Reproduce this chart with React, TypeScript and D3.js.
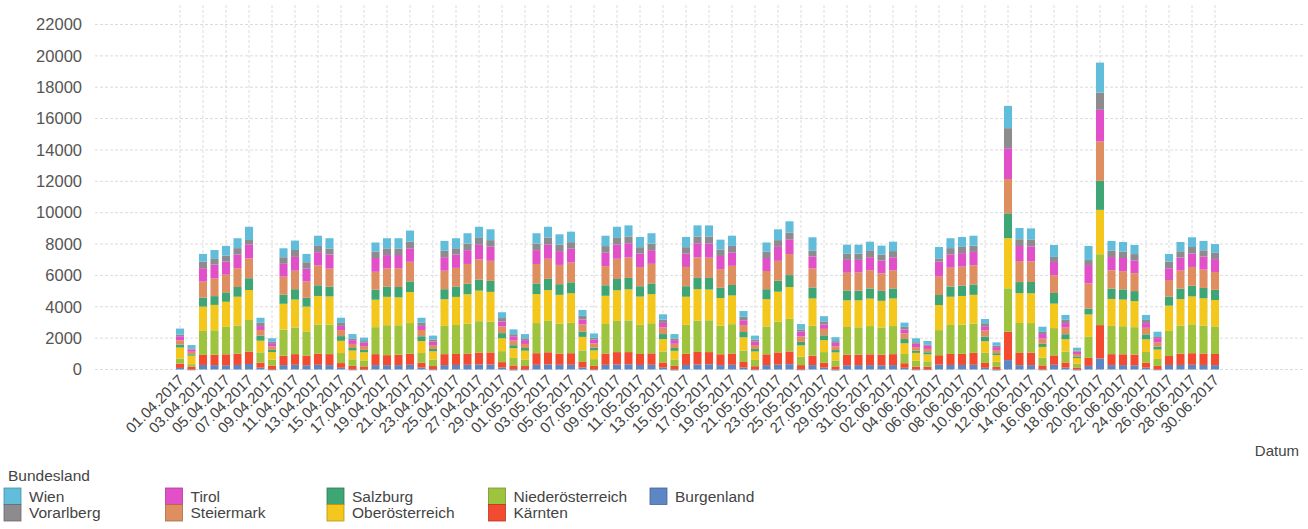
import React from "react";
import * as d3 from "d3";

const dates: string[] = [
  "01.04.2017","02.04.2017","03.04.2017","04.04.2017","05.04.2017","06.04.2017","07.04.2017","08.04.2017","09.04.2017","10.04.2017",
  "11.04.2017","12.04.2017","13.04.2017","14.04.2017","15.04.2017","16.04.2017","17.04.2017","18.04.2017","19.04.2017","20.04.2017",
  "21.04.2017","22.04.2017","23.04.2017","24.04.2017","25.04.2017","26.04.2017","27.04.2017","28.04.2017","29.04.2017","30.04.2017",
  "01.05.2017","02.05.2017","03.05.2017","04.05.2017","05.05.2017","06.05.2017","07.05.2017","08.05.2017","09.05.2017","10.05.2017",
  "11.05.2017","12.05.2017","13.05.2017","14.05.2017","15.05.2017","16.05.2017","17.05.2017","18.05.2017","19.05.2017","20.05.2017",
  "21.05.2017","22.05.2017","23.05.2017","24.05.2017","25.05.2017","26.05.2017","27.05.2017","28.05.2017","29.05.2017","30.05.2017",
  "31.05.2017","01.06.2017","02.06.2017","03.06.2017","04.06.2017","05.06.2017","06.06.2017","07.06.2017","08.06.2017","09.06.2017",
  "10.06.2017","11.06.2017","12.06.2017","13.06.2017","14.06.2017","15.06.2017","16.06.2017","17.06.2017","18.06.2017","19.06.2017",
  "20.06.2017","21.06.2017","22.06.2017","23.06.2017","24.06.2017","25.06.2017","26.06.2017","27.06.2017","28.06.2017","29.06.2017",
  "30.06.2017",
];

const burgenland = [100,-50,290,280,270,290,350,115,-50,280,300,270,300,280,110,-50,-40,280,275,280,300,120,-50,280,290,300,320,310,130,-60,-50,300,320,300,300,130,-50,300,320,330,290,300,120,-60,290,320,330,280,300,130,-50,280,310,340,-50,280,120,-60,270,280,280,270,280,110,-50,-40,310,290,290,300,110,-60,600,275,280,-50,300,120,-60,230,700,280,280,270,120,-50,290,290,300,290,280];
const kaernten = [280,190,640,660,700,720,790,320,250,600,680,620,720,700,300,230,200,700,640,660,700,310,220,700,700,720,760,780,340,260,220,740,780,720,740,350,230,720,790,780,700,730,330,230,710,800,780,690,720,350,210,690,780,810,280,600,320,200,680,670,690,670,700,290,190,180,600,700,710,760,310,170,1810,780,800,260,600,330,130,510,2130,700,690,680,320,230,570,720,740,730,710];
const niederoesterreich = [320,150,1530,1560,1750,1800,2020,660,380,1660,1700,1540,1850,1880,640,420,380,1720,1910,1880,1960,620,400,1800,1850,1900,2000,1960,700,480,420,1920,2000,1900,1940,740,430,1880,1990,2020,1860,1920,690,410,1850,2000,2030,1820,1870,730,400,1780,1960,2080,540,1910,670,380,1760,1740,1800,1740,1790,590,370,340,1600,1850,1860,1860,650,320,2770,1910,1880,500,1740,690,250,1340,4520,1800,1790,1750,680,440,1600,1780,1840,1790,1760];
const oberoesterreich = [700,540,1550,1620,1600,1830,1910,740,480,1650,1780,1580,1820,1800,780,560,520,1750,1810,1780,1980,760,540,1700,1790,1880,1950,1900,820,620,560,1850,1960,1840,1880,860,560,1800,1950,1980,1800,1860,800,550,1790,2000,1960,1770,1830,840,540,1730,1910,2030,720,1740,760,510,1700,1720,1750,1700,1760,680,500,450,1600,1800,1830,1840,730,430,3190,1910,1900,680,1560,790,350,1430,2830,1720,1700,1660,800,600,1610,1700,1780,1730,1680];
const salzburg = [190,90,575,560,600,620,750,320,140,580,660,560,680,620,300,160,150,640,640,660,680,310,150,640,650,680,700,700,330,190,170,680,720,680,700,340,170,670,720,730,660,680,320,180,670,720,740,650,670,340,160,640,700,760,220,700,310,150,630,620,650,630,640,270,140,130,640,650,660,660,300,120,1590,700,720,200,680,320,100,380,1850,660,650,640,320,180,575,660,680,660,650];
const steiermark = [275,160,1020,1140,1120,1200,1270,360,230,1150,1180,1040,1260,1150,380,260,240,1140,1170,1200,1250,400,250,1180,1200,1250,1300,1280,440,300,260,1240,1280,1230,1260,460,270,1220,1290,1300,1220,1250,420,270,1230,1310,1290,1190,1220,450,250,1160,1270,1340,350,1210,410,240,1130,1150,1160,1120,1150,360,230,210,1170,1200,1210,1220,390,200,2190,1340,1320,330,1130,420,160,1600,2510,1170,1160,1140,420,290,1060,1160,1200,1170,1140];
const tirol = [255,150,855,870,840,880,890,255,200,820,880,820,850,900,270,240,220,880,850,840,860,260,230,860,850,880,920,900,300,270,240,880,900,880,880,310,240,860,900,910,860,870,290,230,850,900,910,840,860,300,230,830,890,940,300,770,280,220,820,810,830,810,830,250,210,200,960,850,860,860,270,190,1960,960,950,290,850,290,150,1170,2020,840,840,820,300,260,750,830,860,830,820];
const vorarlberg = [110,70,420,360,380,400,280,210,90,420,440,410,400,380,190,110,100,400,430,420,420,200,110,420,400,420,440,420,220,130,120,420,440,420,420,230,120,420,430,430,410,420,210,110,410,430,440,410,410,220,110,400,430,440,150,360,200,110,390,400,400,390,400,170,100,90,210,400,400,400,190,90,1280,430,420,140,320,210,70,320,1100,420,410,400,200,120,430,400,410,400,400];
const wien = [380,210,490,570,620,630,840,320,220,570,600,530,650,660,330,280,220,590,645,650,710,320,260,620,640,660,710,690,370,310,270,660,700,650,670,380,280,660,710,710,650,660,340,280,650,710,710,630,650,370,260,590,690,710,340,860,330,250,580,570,590,570,600,270,250,220,720,630,630,630,270,210,1420,720,730,330,760,310,180,900,1910,610,610,580,320,290,485,590,620,600,560];

const keys = ["Burgenland","Kärnten","Niederösterreich","Oberösterreich","Salzburg","Steiermark","Tirol","Vorarlberg","Wien"];
const seriesValues: number[][] = [burgenland,kaernten,niederoesterreich,oberoesterreich,salzburg,steiermark,tirol,vorarlberg,wien];
const colors: Record<string,string> = {
  Burgenland: "#5d87c4",
  "Kärnten": "#f24b30",
  "Niederösterreich": "#9dc33f",
  "Oberösterreich": "#f3c71c",
  Salzburg: "#3ea574",
  Steiermark: "#df8e60",
  Tirol: "#e150c8",
  Vorarlberg: "#8e8b8e",
  Wien: "#62bddb",
};
const legendOrder = ["Wien","Vorarlberg","Tirol","Steiermark","Salzburg","Oberösterreich","Niederösterreich","Kärnten","Burgenland"];
const yTicks = [0,2000,4000,6000,8000,10000,12000,14000,16000,18000,20000,22000];

export default function App() {
  const W = 1308, H = 529;
  const plotLeft = 95, plotRight = 1303, plotTop = 5, plotBottom = 369.5;
  const rows = dates.map((d, i) => {
    const r: any = { date: d };
    keys.forEach((k, j) => { r[k] = seriesValues[j][i]; });
    return r;
  });
  const stacked = d3.stack<any>().keys(keys).offset(d3.stackOffsetDiverging)(rows);
  const x = d3.scaleBand<string>().domain(dates).range([174.25, 1220.75]).paddingInner(0.3).paddingOuter(0.15);
  const y = d3.scaleLinear().domain([0, 22000]).range([plotBottom, 24.5]);
  const tickDates = dates.filter((_, i) => i % 2 === 0);
  const font = "'Liberation Sans', Arial, sans-serif";
  const cx = (d: string) => (x(d) as number) + x.bandwidth() / 2;

  return (
    <svg width={W} height={H} style={{ position: "absolute", left: 0, top: 0, background: "#fff" }} fontFamily={font}>
      <rect x={0} y={0} width={W} height={H} fill="#fff" />
      {yTicks.map((t) => (
        <line key={"h" + t} x1={plotLeft} x2={plotRight} y1={y(t)} y2={y(t)} stroke="#dcdcdc" strokeWidth={1} strokeDasharray="3,2" />
      ))}
      {tickDates.map((d) => (
        <line key={"v" + d} x1={cx(d)} x2={cx(d)} y1={plotTop} y2={plotBottom} stroke="#dcdcdc" strokeWidth={1} strokeDasharray="3,2" />
      ))}
      {yTicks.map((t) => (
        <text key={"yl" + t} x={82} y={y(t)} dy="0.35em" textAnchor="end" fontSize={16.5} fill="#555">{t}</text>
      ))}
      {stacked.map((s) => (
        <g key={s.key} fill={colors[s.key]}>
          {s.map((seg, i) => {
            const y0 = y(seg[0]), y1 = y(seg[1]);
            return (
              <rect key={i} x={x(dates[i])} width={x.bandwidth()} y={Math.min(y0, y1)} height={Math.abs(y0 - y1)} />
            );
          })}
        </g>
      ))}
      {tickDates.map((d) => (
        <text key={"xl" + d} transform={`translate(${cx(d) + 5},${381}) rotate(-45)`} textAnchor="end" fontSize={15} fill="#444">{d}</text>
      ))}
      <text x={1299} y={456} textAnchor="end" fontSize={15} fill="#444">Datum</text>
      <text x={8} y={481} fontSize={15.5} fill="#444">Bundesland</text>
      {legendOrder.map((k, idx) => {
        const col = Math.floor(idx / 2), row = idx % 2;
        const sx = 4 + col * 161.5, sy = 488 + row * 16.5;
        return (
          <g key={"lg" + k}>
            <rect x={sx} y={sy} width={17} height={16.5} fill={colors[k]} stroke={d3.color(colors[k])!.darker(0.8).toString()} strokeWidth={0.8} />
            <text x={sx + 25} y={sy + 8.5} dy="0.35em" fontSize={15.5} fill="#444">{k}</text>
          </g>
        );
      })}
    </svg>
  );
}
